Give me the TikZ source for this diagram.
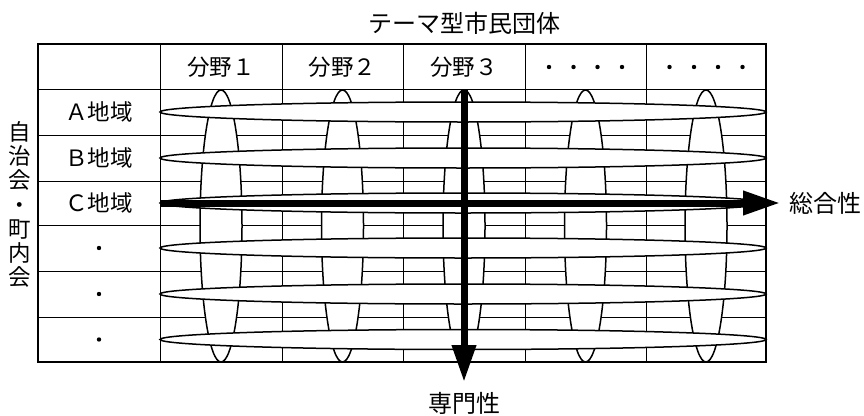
\documentclass[tikz,border=0pt]{standalone}
\usepackage{fontspec}
\setmainfont{Noto Sans CJK JP}
\usetikzlibrary{arrows.meta}
\begin{document}
\begin{tikzpicture}[x=1pt,y=-1pt,
  gridline/.style={line width=0.9pt},
  frameline/.style={line width=1.8pt},
  loopv/.style={fill=white,draw=black,line width=1.5pt},
  looph/.style={fill=white,draw=black,line width=1.5pt},
  bigarrow/.style={line width=7pt,-{Triangle[length=37pt,width=23pt]}},
  lbl/.style={font=\fontsize{22.5}{26}\selectfont, inner sep=0pt},
  biglbl/.style={font=\fontsize{24}{26}\selectfont, inner sep=0pt},
  dotmark/.style={circle,fill=black,inner sep=0pt,minimum size=4.4pt}]
\useasboundingbox (0,0) rectangle (864,415);
% grid
\foreach \yy in {89,135,181,225,271,317}
  \draw[gridline] (38,\yy) -- (766,\yy);
\foreach \xx in {160,282,403,525,646}
  \draw[gridline] (\xx,44) -- (\xx,362);
% vertical loops
\foreach \xx in {221,342.5,464,585.5,706}
  \draw[loopv] (\xx,226) ellipse [x radius=21pt, y radius=136pt];
% horizontal loops
\foreach \yy in {112,158,203,248,294,339.5}
  \draw[looph] (463,\yy) ellipse [x radius=303pt, y radius=10pt];
% frame
\draw[frameline] (38,44) rectangle (766,362);
% header
\node[lbl] (h1) at (221,67) {分野１};
\node[lbl] (h2) at (342.5,67) {分野２};
\node[lbl] (h3) at (464,67) {分野３};
\foreach \dx [count=\i] in {-36.5,-12,12,36.5}{
  \node[dotmark] (da\i) at (585.5+\dx,67) {};
  \node[dotmark] (db\i) at (706+\dx,67) {};
}
% row labels
\node[lbl] (ra) at (99,112) {Ａ地域};
\node[lbl] (rb) at (99,158) {Ｂ地域};
\node[lbl] (rc) at (99,203) {Ｃ地域};
\node[dotmark] (rd) at (99,248) {};
\node[dotmark] (re) at (99,294) {};
\node[dotmark] (rf) at (99,339.5) {};
% side and top labels
\node[biglbl] (title) at (464,23) {テーマ型市民団体};
\node[lbl, align=center, font=\fontsize{22.5}{24.2}\selectfont] (side) at (20,204.5) {自\\治\\会\\・\\町\\内\\会};
% arrows
\coordinate (hs) at (160,203);
\coordinate (he) at (780,203);
\coordinate (vs) at (464,90);
\coordinate (ve) at (464,382);
\draw[bigarrow] (hs) -- (he);
\draw[bigarrow] (vs) -- (ve);
\node[biglbl, anchor=west] (sogo) at (789,203) {総合性};
\node[biglbl] (senmon) at (464,403) {専門性};
\end{tikzpicture}
\end{document}
